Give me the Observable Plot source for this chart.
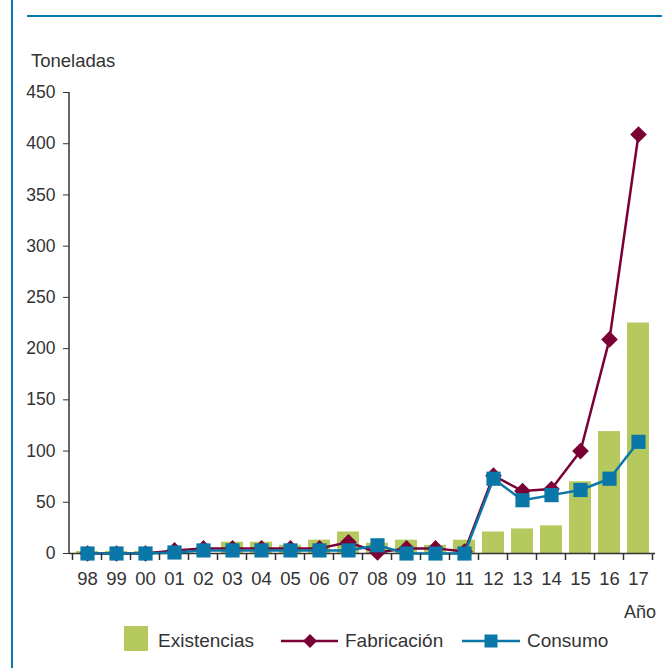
<!DOCTYPE html>
<html><head><meta charset="utf-8">
<script src="https://cdn.jsdelivr.net/npm/d3@7"></script>
<script src="https://cdn.jsdelivr.net/npm/@observablehq/plot@0.6"></script>
<style>
body{margin:0;background:#fff;}
#wrap{position:relative;width:662px;height:668px;overflow:hidden;font-family:"Liberation Sans",Arial,sans-serif;color:#333;}
#chart{position:absolute;left:0;top:0;}
#overlay{position:absolute;left:0;top:0;}
.frameL{position:absolute;left:11px;top:0;width:2px;height:668px;background:#0a78b0;}
.frameT{position:absolute;left:27px;top:15px;width:635px;height:2px;background:#0a78b0;}
</style></head><body>
<div id="wrap">
  <div class="frameL"></div><div class="frameT"></div>
  <div id="chart"></div>
  <svg id="overlay" width="662" height="668"></svg>
</div>
<script>
const years = ["98","99","00","01","02","03","04","05","06","07","08","09","10","11","12","13","14","15","16","17"];
const existencias = [2,2,2,0,0,11,11,8,13,21,10,13,8,13,21,24,27,70,119,225];
const fabricacion = [0,0,0,3,5,5,5,5,5,11,1,5,5,2,76,61,63,100,209,409];
const consumo = [0,0,0,1,3,3,3,3,3,3,8,0,0,0,73,52,57,62,73,109];
const yTicks = [0,50,100,150,200,250,300,350,400,450];
const seriesNames = ["Existencias","Fabricación","Consumo"];
const colors = ["#b5c95e","#7a0036","#0a77a8"];
const yTitle = "Toneladas";
const xTitle = "Año";

const data = years.map((y,i)=>({year:y, existencias:existencias[i], fabricacion:fabricacion[i], consumo:consumo[i]}));
const font = '"Liberation Sans", Arial, sans-serif';

const plot = Plot.plot({
  width:662, height:668, marginTop:92, marginBottom:115, marginLeft:69, marginRight:7,
  style:{fontFamily:font, fontSize:"18px", color:"#333", background:"transparent"},
  x:{type:"band", domain:years, range:[71,653], paddingInner:0.25, paddingOuter:0.125},
  y:{domain:[0,450]},
  marks:[
    Plot.barY(data,{x:"year", y:"existencias", fill:colors[0]}),
    Plot.ruleY([0],{stroke:"#333", strokeWidth:1.5}),
    Plot.lineY(data,{x:"year", y:"fabricacion", stroke:colors[1], strokeWidth:2.5}),
    Plot.dot(data,{x:"year", y:"fabricacion", symbol:"diamond2", r:7.5, fill:colors[1], stroke:null}),
    Plot.lineY(data,{x:"year", y:"consumo", stroke:colors[2], strokeWidth:2.5}),
    Plot.dot(data,{x:"year", y:"consumo", symbol:"square", r:8, fill:colors[2], stroke:null}),
    Plot.axisY({ticks:yTicks, tickSize:6, tickPadding:8, label:null, fontSize:17.5}),
    Plot.axisX({tickSize:0, tickPadding:18, label:null, fontSize:18.5})
  ]
});
document.getElementById("chart").appendChild(plot);

// axis lines and category-edge ticks
const sx = plot.scale("x");
const svg = d3.select(plot);
const g = svg.append("g").attr("stroke","#333").attr("stroke-width",1.5);
g.append("line").attr("x1",69).attr("x2",69).attr("y1",92).attr("y2",553.75);
const edges = sx.domain.map(v => sx.apply(v) - (sx.step - sx.bandwidth)/2);
edges.push(edges[edges.length-1] + sx.step);
edges.forEach(e => g.append("line").attr("x1",e).attr("x2",e).attr("y1",553).attr("y2",560));

// titles and legend
const ov = d3.select("#overlay").style("font-family", font);
ov.append("text").attr("x",31).attr("y",67).attr("font-size",18.5).attr("fill","#333").text(yTitle);
ov.append("text").attr("x",656).attr("y",618).attr("text-anchor","end").attr("font-size",18).attr("fill","#333").text(xTitle);
const lg = ov.append("g");
lg.append("rect").attr("x",124).attr("y",626).attr("width",24).attr("height",25).attr("fill",colors[0]);
lg.append("text").attr("x",158).attr("y",647).attr("font-size",19).attr("fill","#333").text(seriesNames[0]);
lg.append("line").attr("x1",281).attr("x2",338).attr("y1",641).attr("y2",641).attr("stroke",colors[1]).attr("stroke-width",2.5);
lg.append("path").attr("d",d3.symbol(d3.symbolDiamond2, 125)()).attr("transform","translate(310,641)").attr("fill",colors[1]);
lg.append("text").attr("x",345).attr("y",647).attr("font-size",19).attr("fill","#333").text(seriesNames[1]);
lg.append("line").attr("x1",462).attr("x2",520).attr("y1",641).attr("y2",641).attr("stroke",colors[2]).attr("stroke-width",2.5);
lg.append("rect").attr("x",484.5).attr("y",634.5).attr("width",13).attr("height",13).attr("fill",colors[2]);
lg.append("text").attr("x",527).attr("y",647).attr("font-size",19).attr("fill","#333").text(seriesNames[2]);
</script>
</body></html>
